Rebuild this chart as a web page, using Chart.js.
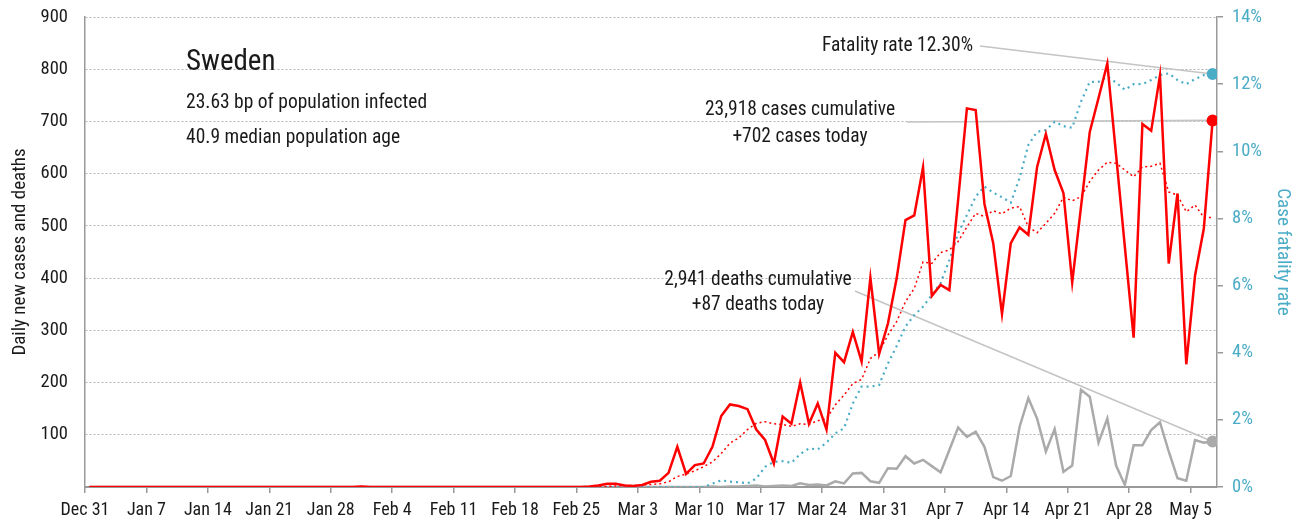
<!DOCTYPE html>
<html>
<head>
<meta charset="utf-8">
<script src="https://cdn.jsdelivr.net/npm/chart.js@4.4.0/dist/chart.umd.min.js"></script>
<style>
  html, body { margin: 0; padding: 0; background: #fff; }
  #wrap { width: 1316px; height: 526px; }
</style>
</head>
<body>
<div id="wrap"><canvas id="chart" width="1316" height="526"></canvas></div>
<script>
// day index 0 = Dec 31, one value per day up to May 7
const tickDays = [0, 7, 14, 21, 28, 35, 42, 49, 56, 63, 70, 77, 84, 91, 98, 105, 112, 119, 126];
const tickLabels = ['Dec 31', 'Jan 7', 'Jan 14', 'Jan 21', 'Jan 28', 'Feb 4', 'Feb 11', 'Feb 18', 'Feb 25',
  'Mar 3', 'Mar 10', 'Mar 17', 'Mar 24', 'Mar 31', 'Apr 7', 'Apr 14', 'Apr 21', 'Apr 28', 'May 5'];

const dailyCases = [
  0, 0, 0, 0, 0, 0, 0, 0, 0, 0, 0, 0, 0, 0, 0, 0, 0, 0, 0, 0,
  0, 0, 0, 0, 0, 0, 0, 0, 0, 0, 0, 1, 0, 0, 0, 0, 0, 0, 0, 0,
  0, 0, 0, 0, 0, 0, 0, 0, 0, 0, 0, 0, 0, 0, 0, 0, 0, 1, 3, 6,
  6, 3, 2, 4, 10, 12, 27, 77, 25, 42, 45, 77, 136, 158, 155, 149, 110, 90, 45, 135,
  121, 200, 121, 160, 110, 257, 239, 297, 240, 401, 255, 313, 400, 511, 520, 612, 366, 387, 377, 550,
  725, 722, 542, 467, 331, 467, 497, 483, 613, 676, 607, 563, 392, 536, 680, 745, 811, 636, 460, 286,
  695, 682, 788, 428, 562, 235, 405, 495, 702
];

const casesAvg = [
  0, 0, 0, 0, 0, 0, 0, 0, 0, 0, 0, 0, 0, 0, 0, 0, 0, 0, 0, 0,
  0, 0, 0, 0, 0, 0, 0, 0, 0, 0, 0, 0, 0, 0, 0, 0, 0, 0, 0, 0,
  0, 0, 0, 0, 0, 0, 0, 0, 0, 0, 0, 0, 0, 0, 0, 0, 0, 0, 0, 1,
  2, 3, 3, 4, 5, 6, 10, 20, 25, 31, 39, 48, 64, 84, 94, 110, 122, 125, 121, 120,
  116, 121, 120, 127, 131, 157, 176, 198, 206, 246, 259, 291, 317, 355, 380, 431, 428, 449, 454, 470,
  498, 524, 518, 529, 523, 534, 537, 498, 487, 505, 524, 555, 548, 556, 585, 607, 622, 620, 607, 594,
  613, 614, 620, 565, 559, 527, 540, 516, 516
];

const dailyDeaths = [
  0, 0, 0, 0, 0, 0, 0, 0, 0, 0, 0, 0, 0, 0, 0, 0, 0, 0, 0, 0,
  0, 0, 0, 0, 0, 0, 0, 0, 0, 0, 0, 0, 0, 0, 0, 0, 0, 0, 0, 0,
  0, 0, 0, 0, 0, 0, 0, 0, 0, 0, 0, 0, 0, 0, 0, 0, 0, 0, 0, 0,
  0, 0, 0, 0, 0, 0, 0, 0, 0, 0, 0, 1, 0, 1, 1, 2, 3, 1, 2, 3,
  2, 7, 4, 5, 3, 11, 7, 26, 27, 11, 8, 36, 35, 59, 45, 52, 40, 28, 71, 114,
  96, 106, 77, 19, 12, 21, 115, 170, 131, 68, 111, 29, 41, 186, 173, 85, 131, 41, 4, 80,
  80, 109, 124, 68, 17, 12, 90, 85, 87
];

const fatalityRate = [
  0, 0, 0, 0, 0, 0, 0, 0, 0, 0, 0, 0, 0, 0, 0, 0, 0, 0, 0, 0,
  0, 0, 0, 0, 0, 0, 0, 0, 0, 0, 0, 0, 0, 0, 0, 0, 0, 0, 0, 0,
  0, 0, 0, 0, 0, 0, 0, 0, 0, 0, 0, 0, 0, 0, 0, 0, 0, 0, 0, 0,
  0, 0, 0, 0, 0, 0, 0, 0, 0, 0, 0, 0.1, 0.2, 0.16, 0.14, 0.11, 0.25, 0.6, 0.75, 0.77,
  0.72, 0.98, 1.15, 1.12, 1.32, 1.6, 1.75, 2.49, 2.99, 2.99, 3.04, 3.68, 4.2, 4.78, 5.12, 5.37, 5.72, 6.07, 6.76, 7.56,
  8.1, 8.65, 8.95, 8.77, 8.63, 8.47, 9.2, 10.19, 10.58, 10.63, 10.88, 10.75, 10.7, 11.48, 12.07, 12.07, 12.22, 12.05, 11.83, 12.0,
  12.0, 12.12, 12.27, 12.32, 12.12, 12.0, 12.15, 12.27, 12.3
];

const FONT = "'Roboto Condensed', 'Roboto', sans-serif";
const INK = '#1a1a1a';
const RED = '#ff0000';
const CYAN = '#4bacc6';
const GREY = '#aaaaaa';
const LEADER = '#c4c4c4';

// points sit at the middle of each day
const pts = arr => arr.map((v, i) => ({ x: i + 0.5, y: v }));
const lastDot = arr => ctx => (ctx.dataIndex === arr.length - 1 ? 6 : 0);

// fixed axis sizes so the plot area matches the original frame
const fitWidth = w => s => { s.width = w; s.paddingTop = 0; s.paddingBottom = 0; };

const annotations = {
  id: 'annotations',
  beforeDatasetsDraw(chart) {
    const c = chart.ctx;
    const x = chart.scales.x, y = chart.scales.y, y2 = chart.scales.y2;
    const last = dailyCases.length - 1 + 0.5;
    c.save();
    c.strokeStyle = LEADER;
    c.lineWidth = 1.6;
    const lines = [
      [980, 46, x.getPixelForValue(last), y2.getPixelForValue(fatalityRate[fatalityRate.length - 1])],
      [907, 122, x.getPixelForValue(last), y.getPixelForValue(dailyCases[dailyCases.length - 1])],
      [855, 291, x.getPixelForValue(last), y.getPixelForValue(dailyDeaths[dailyDeaths.length - 1])]
    ];
    lines.forEach(l => {
      c.beginPath();
      c.moveTo(l[0], l[1]);
      c.lineTo(l[2], l[3]);
      c.stroke();
    });
    c.fillStyle = INK;
    c.textBaseline = 'middle';
    c.font = '29px ' + FONT;
    c.textAlign = 'left';
    c.fillText('Sweden', 186, 63);
    c.font = '19.5px ' + FONT;
    c.fillText('23.63 bp of population infected', 186, 103);
    c.fillText('40.9 median population age', 186, 138);
    c.textAlign = 'right';
    c.fillText('Fatality rate 12.30%', 973, 46);
    c.textAlign = 'center';
    c.fillText('23,918 cases cumulative', 800, 110);
    c.fillText('+702 cases today', 800, 137);
    c.fillText('2,941 deaths cumulative', 758, 280);
    c.fillText('+87 deaths today', 758, 305);
    c.restore();
  }
};

new Chart(document.getElementById('chart'), {
  type: 'line',
  data: {
    datasets: [
      {
        label: 'Daily cases',
        data: pts(dailyCases),
        yAxisID: 'y',
        borderColor: RED,
        backgroundColor: RED,
        borderWidth: 2.5,
        pointRadius: lastDot(dailyCases),
        pointBorderWidth: 0,
        tension: 0
      },
      {
        label: 'Cases 7-day average',
        data: pts(casesAvg),
        yAxisID: 'y',
        borderColor: RED,
        borderWidth: 1.5,
        borderDash: [2, 3],
        pointRadius: 0,
        tension: 0
      },
      {
        label: 'Case fatality rate',
        data: pts(fatalityRate),
        yAxisID: 'y2',
        borderColor: CYAN,
        backgroundColor: CYAN,
        borderWidth: 2.2,
        borderDash: [2, 4],
        pointRadius: lastDot(fatalityRate),
        pointBorderWidth: 0,
        tension: 0
      },
      {
        label: 'Daily deaths',
        data: pts(dailyDeaths),
        yAxisID: 'y',
        borderColor: GREY,
        backgroundColor: GREY,
        borderWidth: 2.5,
        pointRadius: lastDot(dailyDeaths),
        pointBorderWidth: 0,
        tension: 0
      }
    ]
  },
  options: {
    responsive: false,
    animation: false,
    layout: { padding: { top: 17, left: 0, right: 0, bottom: 0 } },
    plugins: { legend: { display: false }, tooltip: { enabled: false } },
    scales: {
      x: {
        type: 'linear',
        min: 0,
        max: 129,
        afterBuildTicks: s => { s.ticks = tickDays.map(v => ({ value: v })); },
        afterFit: s => { s.height = 39; },
        border: { color: '#999', width: 2 },
        grid: { drawOnChartArea: false, drawTicks: true, tickLength: 6, color: '#999', lineWidth: 1.5 },
        ticks: {
          autoSkip: false,
          maxRotation: 0,
          padding: 7,
          color: INK,
          font: { family: FONT, size: 18 },
          callback: v => tickLabels[tickDays.indexOf(v)]
        }
      },
      y: {
        position: 'left',
        min: 0,
        max: 900,
        afterFit: fitWidth(85),
        border: { color: '#999', width: 1.5, dash: [2, 2] },
        grid: { color: '#b4b4b4', lineWidth: 1, drawTicks: false },
        ticks: {
          stepSize: 100,
          padding: 17,
          color: INK,
          font: { family: FONT, size: 18.5 },
          callback: v => (v === 0 ? '' : v)
        },
        title: {
          display: true,
          text: 'Daily new cases and deaths',
          color: INK,
          font: { family: FONT, size: 19 },
          padding: { top: 9, bottom: 0 }
        }
      },
      y2: {
        position: 'right',
        min: 0,
        max: 14,
        afterFit: fitWidth(99),
        border: { color: '#999', width: 1.5 },
        grid: { drawOnChartArea: false, drawTicks: true, tickLength: 6, color: '#999', lineWidth: 1.5 },
        ticks: {
          stepSize: 2,
          padding: 9,
          color: CYAN,
          font: { family: FONT, size: 18.5 },
          callback: v => v + '%'
        },
        title: {
          display: true,
          text: 'Case fatality rate',
          color: CYAN,
          font: { family: FONT, size: 19 },
          padding: { top: 21.5, bottom: 0 }
        }
      }
    }
  },
  plugins: [annotations]
});
</script>
</body>
</html>
